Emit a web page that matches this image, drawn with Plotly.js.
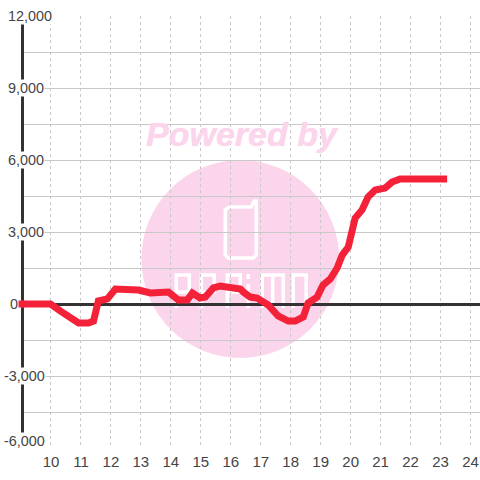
<!DOCTYPE html>
<html><head><meta charset="utf-8">
<script src="https://cdn.plot.ly/plotly-3.0.1.min.js"></script>
<style>html,body{margin:0;padding:0;background:#fff}#c{width:480px;height:480px}</style>
</head><body><div id="c"></div>
<script>
const hours=[9,9.98,10.32,10.72,10.92,11.25,11.42,11.58,11.88,12.15,12.65,12.92,13.32,13.92,14.25,14.55,14.72,14.98,15.15,15.42,15.65,16.05,16.32,16.42,16.65,16.88,17.25,17.58,17.92,18.15,18.42,18.58,18.88,19.08,19.32,19.55,19.72,19.92,20.15,20.38,20.58,20.82,21.15,21.38,21.65,23.22];
const values=[0,0,-300,-580,-790,-790,-710,125,210,625,580,580,460,500,165,165,460,250,290,670,750,710,625,500,290,250,-40,-500,-710,-710,-540,40,290,790,1040,1500,2040,2375,3580,3920,4460,4750,4830,5080,5210,5210];
const yTicks=[12000,9000,6000,3000,0,-3000,-6000];
const yLabels=['12,000','9,000','6,000','3,000','0','-3,000','-6,000'];
const gridY=[10500,7500,4500,1500,-1500,-4500];
const xTicks=[10,11,12,13,14,15,16,17,18,19,20,21,22,23,24];

const W=480,H=480,L=20.5,T=16,B=32,PW=W-L,PH=H-T-B;
const px=x=>(x-L)/PW, py=y=>1-(y-T)/PH;
function paperPath(pts){return 'M'+pts.map(p=>px(p[0]).toFixed(5)+','+py(p[1]).toFixed(5)).join('L');}
const white={color:'#fff',width:3.5};
const wm=(pts)=>({type:'path',xref:'paper',yref:'paper',layer:'below',path:paperPath(pts),line:white,fillcolor:'rgba(0,0,0,0)'});
const letterP=x=>wm([[x,308],[x,275],[x+13,275],[x+13,292],[x,292]]);
const pink='#fbd5ec';
const red='#f32238';
const shapes=[
 {type:'circle',xref:'paper',yref:'paper',layer:'below',x0:px(141),x1:px(339),y0:py(358),y1:py(160),fillcolor:pink,line:{width:0}},
 wm([[229,207],[251,207],[254,201],[256,201],[256,255],[253,258],[228,258],[225,255],[225,210],[229,207]]),
 letterP(176),letterP(201),letterP(227),
 wm([[248,274],[248,279]]),
 wm([[248,284],[248,308]]),
 wm([[262,308],[262,275],[283,275],[283,308]]),
 wm([[272.5,275],[272.5,308]]),
 wm([[293,308],[293,275],[306,275],[306,308]])
];
const annotations=[
 {xref:'paper',yref:'paper',x:px(242),y:py(134),text:'<b><i>Powered by</i></b>',showarrow:false,xanchor:'center',yanchor:'middle',font:{family:'Liberation Sans',size:34,color:pink,shadow:'0 0 1px '+pink}}
];
const labelLeft=s=>s==='0'?8:(s[0]==='-'?2:6);
yTicks.forEach((v,i)=>annotations.push({xref:'paper',yref:'y',x:px(labelLeft(yLabels[i])),y:v,yshift:v===-6000?7:0,text:yLabels[i],showarrow:false,xanchor:'left',yanchor:'middle',bgcolor:'#fff',borderpad:0,font:{family:'Liberation Sans',size:14.4,color:'#444'}}));

Plotly.newPlot('c',[
 {x:hours,y:values,mode:'lines',cliponaxis:false,line:{color:red,width:7,shape:'linear'},hoverinfo:'skip'},
 {x:[hours[0]],y:[values[0]],mode:'markers',cliponaxis:false,marker:{symbol:'square',size:7,color:red,line:{width:0}},hoverinfo:'skip'}
],{
 width:W,height:H,margin:{l:L,r:0,t:T,b:B,pad:0},paper_bgcolor:'#fff',plot_bgcolor:'rgba(0,0,0,0)',showlegend:false,
 xaxis:{range:[9,9+PW/30],tickmode:'array',tickvals:xTicks,ticktext:xTicks.map(String),showgrid:true,gridcolor:'#c8c8c8',griddash:'3px,3px',gridwidth:1,zeroline:false,showline:false,ticks:'',ticklabelstandoff:3,tickfont:{family:'Liberation Sans',size:15,color:'#444'}},
 yaxis:{range:[-6000,12000],anchor:'free',position:1.5/PW,layer:'below traces',tickmode:'array',tickvals:yTicks.concat(gridY),ticktext:yTicks.concat(gridY).map(()=>''),showgrid:true,gridcolor:'#c8c8c8',gridwidth:1,zeroline:true,zerolinecolor:'#333',zerolinewidth:3,showline:true,linecolor:'#333',linewidth:3,ticks:''},
 shapes,annotations
},{displayModeBar:false,staticPlot:true});
</script></body></html>
